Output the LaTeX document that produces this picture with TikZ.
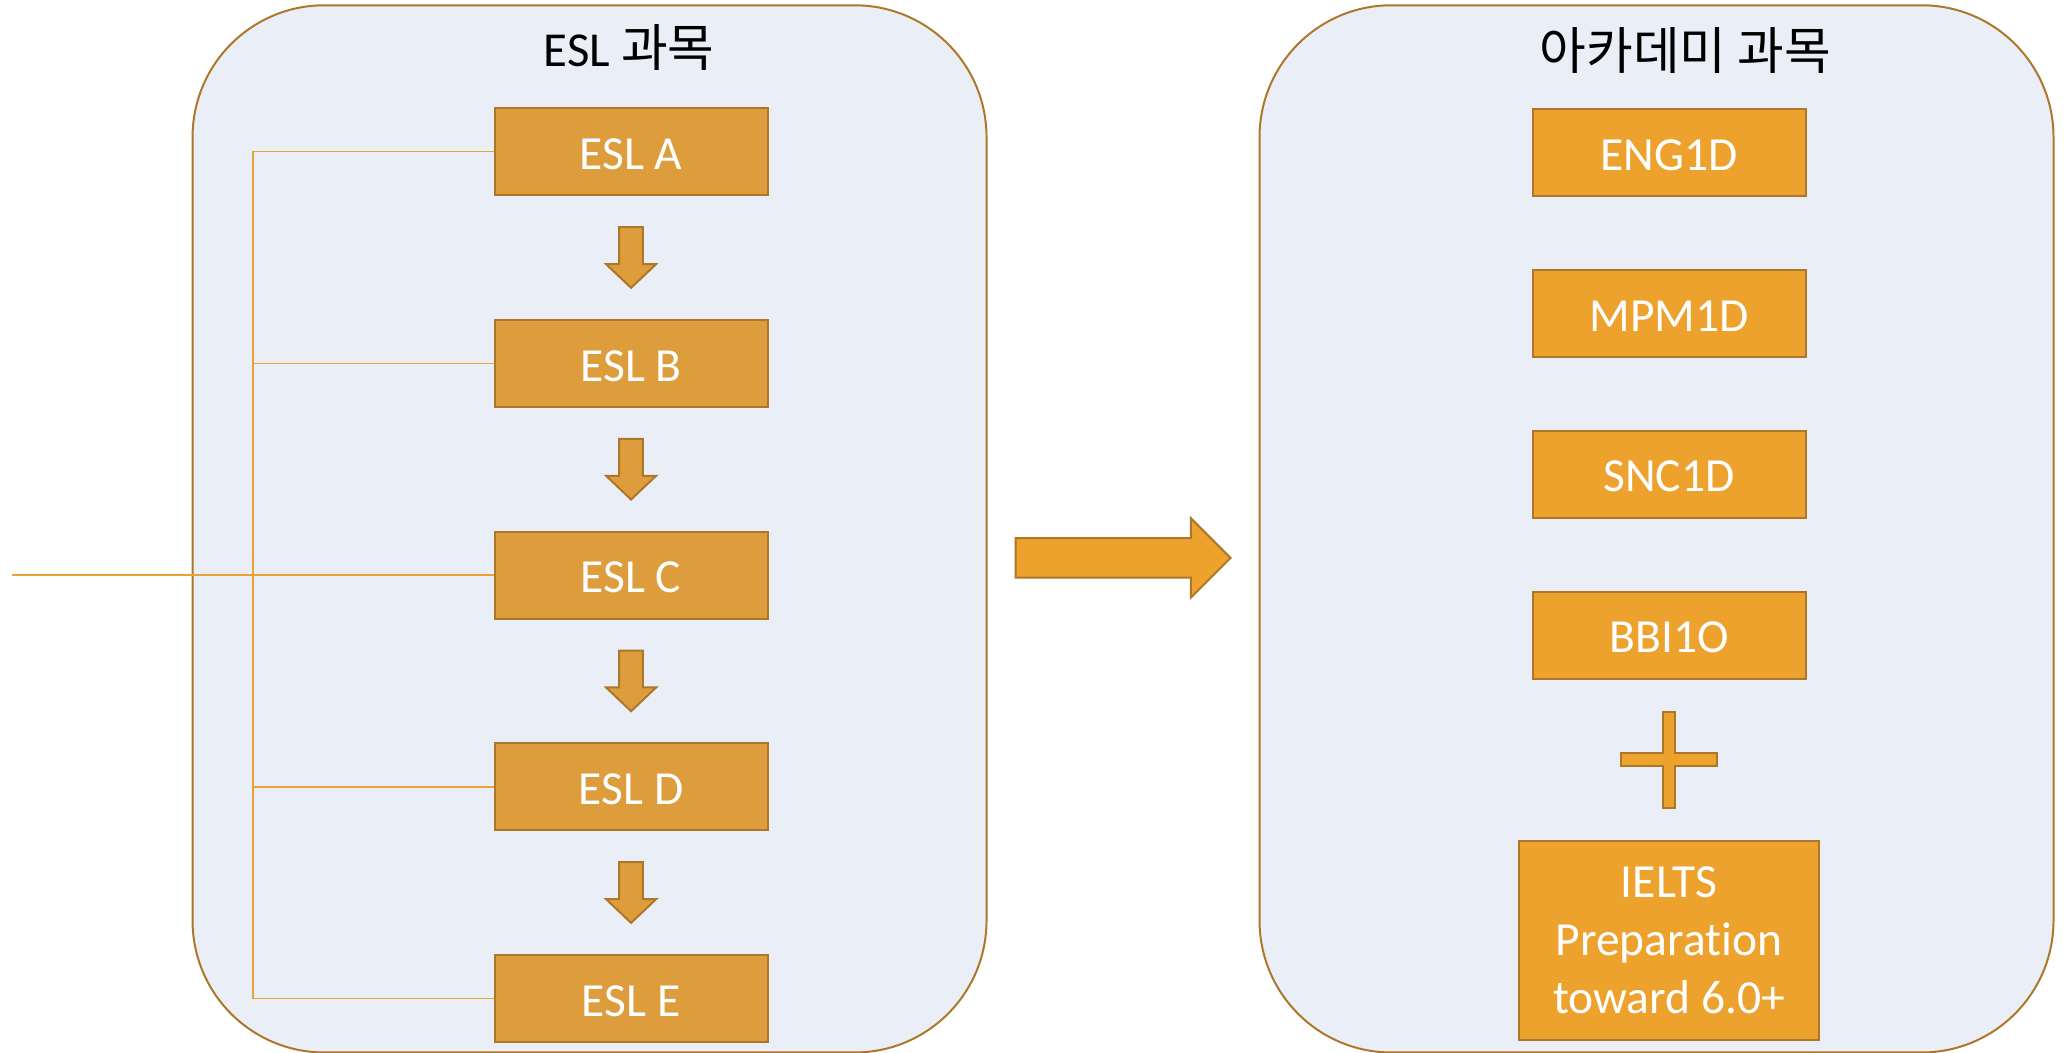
\documentclass[tikz,border=0pt]{standalone}
\usepackage{fontspec}
\setmainfont{Carlito}[Ligatures=NoCommon]
\newfontfamily\krfont{Noto Sans CJK KR}[Scale=1.04]
\usetikzlibrary{positioning,calc}
\definecolor{Amber}{HTML}{DE9D3C}
\definecolor{Tangerine}{HTML}{EEA22E}
\definecolor{Bronze}{HTML}{AE7628}
\definecolor{Frost}{HTML}{EAEFF7}
\definecolor{Wire}{HTML}{EBA136}

\begin{document}
\begin{tikzpicture}[
  x=0.5pt,y=-0.5pt,
  panel/.style={
    draw=Bronze,
    fill=Frost,
    line width=0.75pt,
    rounded corners=50pt,
    minimum width=301pt,
    minimum height=397pt
  },
  eslbox/.style={
    draw=Bronze,
    fill=Amber,
    line width=0.75pt,
    minimum width=103.5pt,
    minimum height=33pt,
    inner sep=0pt,
    text height=15.5pt,
    text depth=2pt,
    align=center,
    text=white,
    font=\fontsize{18}{22}\selectfont
  },
  acbox/.style={
    eslbox,
    fill=Tangerine
  },
  tallbox/.style={
    acbox,
    text height=,
    text depth=,
    minimum width=114pt,
    minimum height=75.5pt
  },
  heading/.style={font=\fontsize{18.5}{22}\selectfont},
  link/.style={draw=Wire,line width=0.6pt},
  blockarrow/.style={draw=Bronze,fill=Amber,line width=0.75pt},
  bigarrow/.style={blockarrow,fill=Tangerine}
]
\useasboundingbox (0,0) rectangle (1568,798);

% panels
\node[panel] (eslpanel) at (447,401) {};
\node[panel] (acpanel) at (1256,401) {};
\node[heading] (esltitle) at (477,36) {ESL {\krfont 과목}};
\node[heading] (actitle) at (1278,38) {\krfont 아카데미 과목};

% ESL column
\node[eslbox] (eslA) at (478.5,115) {ESL A};
\node[eslbox,below=46.5pt of eslA] (eslB) {ESL B};
\node[eslbox,below=46.5pt of eslB] (eslC) {ESL C};
\node[eslbox,below=46.5pt of eslC] (eslD) {ESL D};
\node[eslbox,below=46.5pt of eslD] (eslE) {ESL E};

% academic column
\node[acbox] (eng) at (1265.5,115.5) {ENG1D};
\node[acbox,below=27.25pt of eng] (mpm) {MPM1D};
\node[acbox,below=27.25pt of mpm] (snc) {SNC1D};
\node[acbox,below=27.25pt of snc] (bbi) {BBI1O};
\node[tallbox,below=60.75pt of bbi] (ielts) {IELTS\\Preparation\\toward 6.0+};

% side links
\coordinate (spine) at (192,0);
\coordinate (entry) at ($(eslC.west)+(-365,0)$);
\draw[link] (entry) -- (eslC.west);
\draw[link] (eslA.west) -- (eslA.west -| spine) -- (eslE.west -| spine) -- (eslE.west);
\foreach \n in {eslB,eslD}
  \draw[link] (\n.west) -- (\n.west -| spine);

% down arrows
\foreach \from/\to in {eslA/eslB,eslB/eslC,eslC/eslD,eslD/eslE}
  \draw[blockarrow] ($(\from.south)!0.5!(\to.north)$) ++(-9,-23) -- ++(18,0) -- ++(0,28)
    -- ++(10,0) -- ++(-19,18) -- ++(-19,-18) -- ++(10,0) -- cycle;

% big arrow between panels
\coordinate (go) at ($(eslpanel.east)!0.5!(acpanel.west)+(0,22)$);
\draw[bigarrow] (go) ++(-81.5,-15) -- ++(133,0) -- ++(0,-15) -- ++(30,30)
  -- ++(-30,30) -- ++(0,-15) -- ++(-133,0) -- cycle;

% plus sign
\coordinate (plus) at ($(bbi.south)!0.5!(ielts.north)$);
\draw[bigarrow] (plus) ++(-4.5,-36.5) -- ++(9,0) -- ++(0,31.5) -- ++(32,0) -- ++(0,10)
  -- ++(-32,0) -- ++(0,31.5) -- ++(-9,0) -- ++(0,-31.5) -- ++(-32,0) -- ++(0,-10)
  -- ++(32,0) -- cycle;
\end{tikzpicture}
\end{document}
